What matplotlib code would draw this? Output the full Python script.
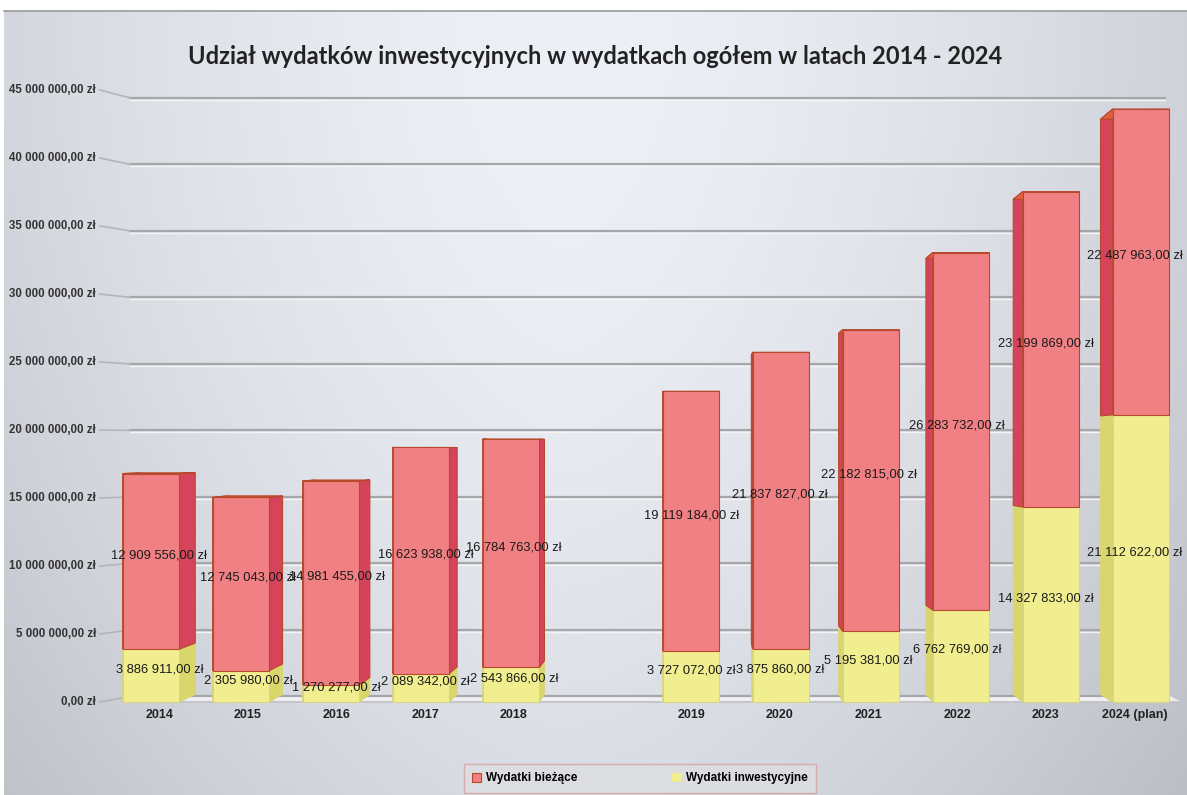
import numpy as np
import matplotlib.pyplot as plt
from matplotlib.patches import Polygon, Rectangle

# Data
years = ["2014", "2015", "2016", "2017", "2018",
         "2019", "2020", "2021", "2022", "2023", "2024 (plan)"]
biezace = [12909556, 12745043, 14981455, 16623938, 16784763,
           19119184, 21837827, 22182815, 26283732, 23199869, 22487963]
inwestycyjne = [3886911, 2305980, 1270277, 2089342, 2543866,
                3727072, 3875860, 5195381, 6762769, 14327833, 21112622]
y_ticks = np.arange(0, 45_000_001, 5_000_000)

title = "Udział wydatków inwestycyjnych w wydatkach ogółem w latach 2014 - 2024"
legend_labels = ["Wydatki bieżące", "Wydatki inwestycyjne"]

# style
font = ["Liberation Sans", "DejaVu Sans"]
red_front, red_side, red_top, red_edge = "#F08083", "#D6445C", "#E0603E", "#B8482A"
yel_front, yel_side, yel_edge = "#F0EE8E", "#D9D76C", "#D8D47A"

# fake perspective: back faces shift towards a vanishing point
k = 0.03
vx, vy = 6.2, 18.6e6
k_wall = 0.022
bar_w = 0.63


def zl(v):
    return f"{v:,.2f}".replace(",", " ").replace(".", ",") + " zł"


def back(x, y, kk=k):
    return x + kk * (vx - x), y + kk * (vy - y)


def box3d(ax, xc, y0, y1, front, side, edge, top=None, lw=0.8):
    x0, x1 = xc - bar_w / 2, xc + bar_w / 2
    for xs in (x0, x1):
        pts = [(xs, y0), (xs, y1), back(xs, y1), back(xs, y0)]
        ax.add_patch(Polygon(pts, closed=True, fc=side, ec=edge, lw=lw, zorder=3, clip_on=False))
    if top is not None:
        pts = [(x0, y1), (x1, y1), back(x1, y1), back(x0, y1)]
        ax.add_patch(Polygon(pts, closed=True, fc=top, ec=edge, lw=lw, zorder=3, clip_on=False))
    ax.add_patch(Rectangle((x0, y0), bar_w, y1 - y0, fc=front, ec=edge, lw=lw, zorder=4, clip_on=False))


fig = plt.figure(figsize=(11.87, 7.95), dpi=100)

# gray gradient background
bg = fig.add_axes([0.0034, 0, 0.9966, 0.986])
gx, gy = np.meshgrid(np.linspace(-1, 1, 400), np.linspace(0, 1, 300))
light = 0.955 - 0.11 * np.abs(gx + 0.05) ** 1.6 - 0.08 * gy ** 2
rgb = np.dstack([light * 0.975, light * 0.985, light * 1.0 + 0.015]).clip(0, 1)
bg.imshow(rgb, aspect="auto", extent=[0, 1, 0, 1], origin="upper")
bg.axis("off")
fig.add_artist(plt.Line2D([0.0034, 1], [0.986, 0.986], color="#9A9B9E", lw=1.2))

ax = fig.add_axes([97 / 1187, 93 / 795, 1089 / 1187, 612 / 795])
ax.set_xlim(-0.6, 11.5)
ax.set_ylim(0, 45e6)
ax.patch.set_alpha(0)
for s in ax.spines.values():
    s.set_visible(False)
ax.set_xticks([])
ax.set_yticks([])

# floor
fl0, fl1 = -0.3, 11.45
floor = [(fl0, 0), (fl1, 0), back(fl1, 0, k_wall), back(fl0, 0, k_wall)]
ax.add_patch(Polygon(floor, closed=True, fc="#ECEDEF", ec="none", zorder=1, clip_on=False))
ax.plot([fl0, fl1], [0, 0], color="#BFC1C5", lw=1.2, zorder=1, clip_on=False)

# back wall grid + slanted connectors to the tick labels
for t in y_ticks:
    yb = t + k_wall * (vy - t)
    ax.plot([-0.23, 11.27], [yb, yb], color="#A6A7AA", lw=1.6, zorder=1, clip_on=False)
    ax.plot([-0.23, 11.27], [yb - 0.12e6, yb - 0.12e6], color="#F4F4F4", lw=1.0, zorder=1, clip_on=False)
    ax.plot([-0.57, -0.23], [t, yb], color="#B4B5B8", lw=1.2, zorder=1, clip_on=False)
    ax.text(-0.61, t, zl(t), ha="right", va="center", fontsize=8.3,
            family=font, color="#333333", fontweight="bold")

# stacked pseudo-3D bars (gap between 2018 and 2019)
pos = np.arange(len(years)) + (np.arange(len(years)) >= 5)
for i, xc in enumerate(pos):
    inv, cur = inwestycyjne[i], biezace[i]
    box3d(ax, xc, 0, inv, yel_front, yel_side, yel_edge, lw=0.6)
    box3d(ax, xc, inv, inv + cur, red_front, red_side, red_edge, top=red_top)

    xl = xc + 0.5 * k * (vx - xc)
    ax.text(xl, inv / 2 + 0.45e6, zl(inv), ha="center", va="center",
            fontsize=9.3, family=font, color="#1A1A1A", zorder=6)
    ax.text(xl, inv + cur / 2 + 0.45e6, zl(cur), ha="center", va="center",
            fontsize=9.3, family=font, color="#1A1A1A", zorder=6)
    ax.text(xl, -0.95e6, years[i], ha="center", va="center",
            fontsize=9, family=font, fontweight="bold", color="#222222")

fig.text(595 / 1187, 1 - 57 / 795, title, ha="center", va="center",
         fontsize=17, fontweight="bold", family=["Lato", "DejaVu Sans"], color="#222222")

handles = [Rectangle((0, 0), 1, 1, fc=red_front, ec=red_edge, lw=0.8),
           Rectangle((0, 0), 1, 1, fc=yel_front, ec="none")]
leg = fig.legend(handles, legend_labels, loc="upper center", ncol=2,
                 bbox_to_anchor=(640 / 1187, 1 - 764 / 795), frameon=True,
                 fancybox=False, edgecolor="#D6A0A0", facecolor="#DDDEE1",
                 handlelength=0.8, handleheight=0.8, handletextpad=0.4,
                 columnspacing=8, borderpad=0.7, borderaxespad=0,
                 prop={"family": font, "weight": "bold", "size": 8.5})
leg.get_frame().set_linewidth(1.0)

fig.savefig("out.png", dpi=100)
